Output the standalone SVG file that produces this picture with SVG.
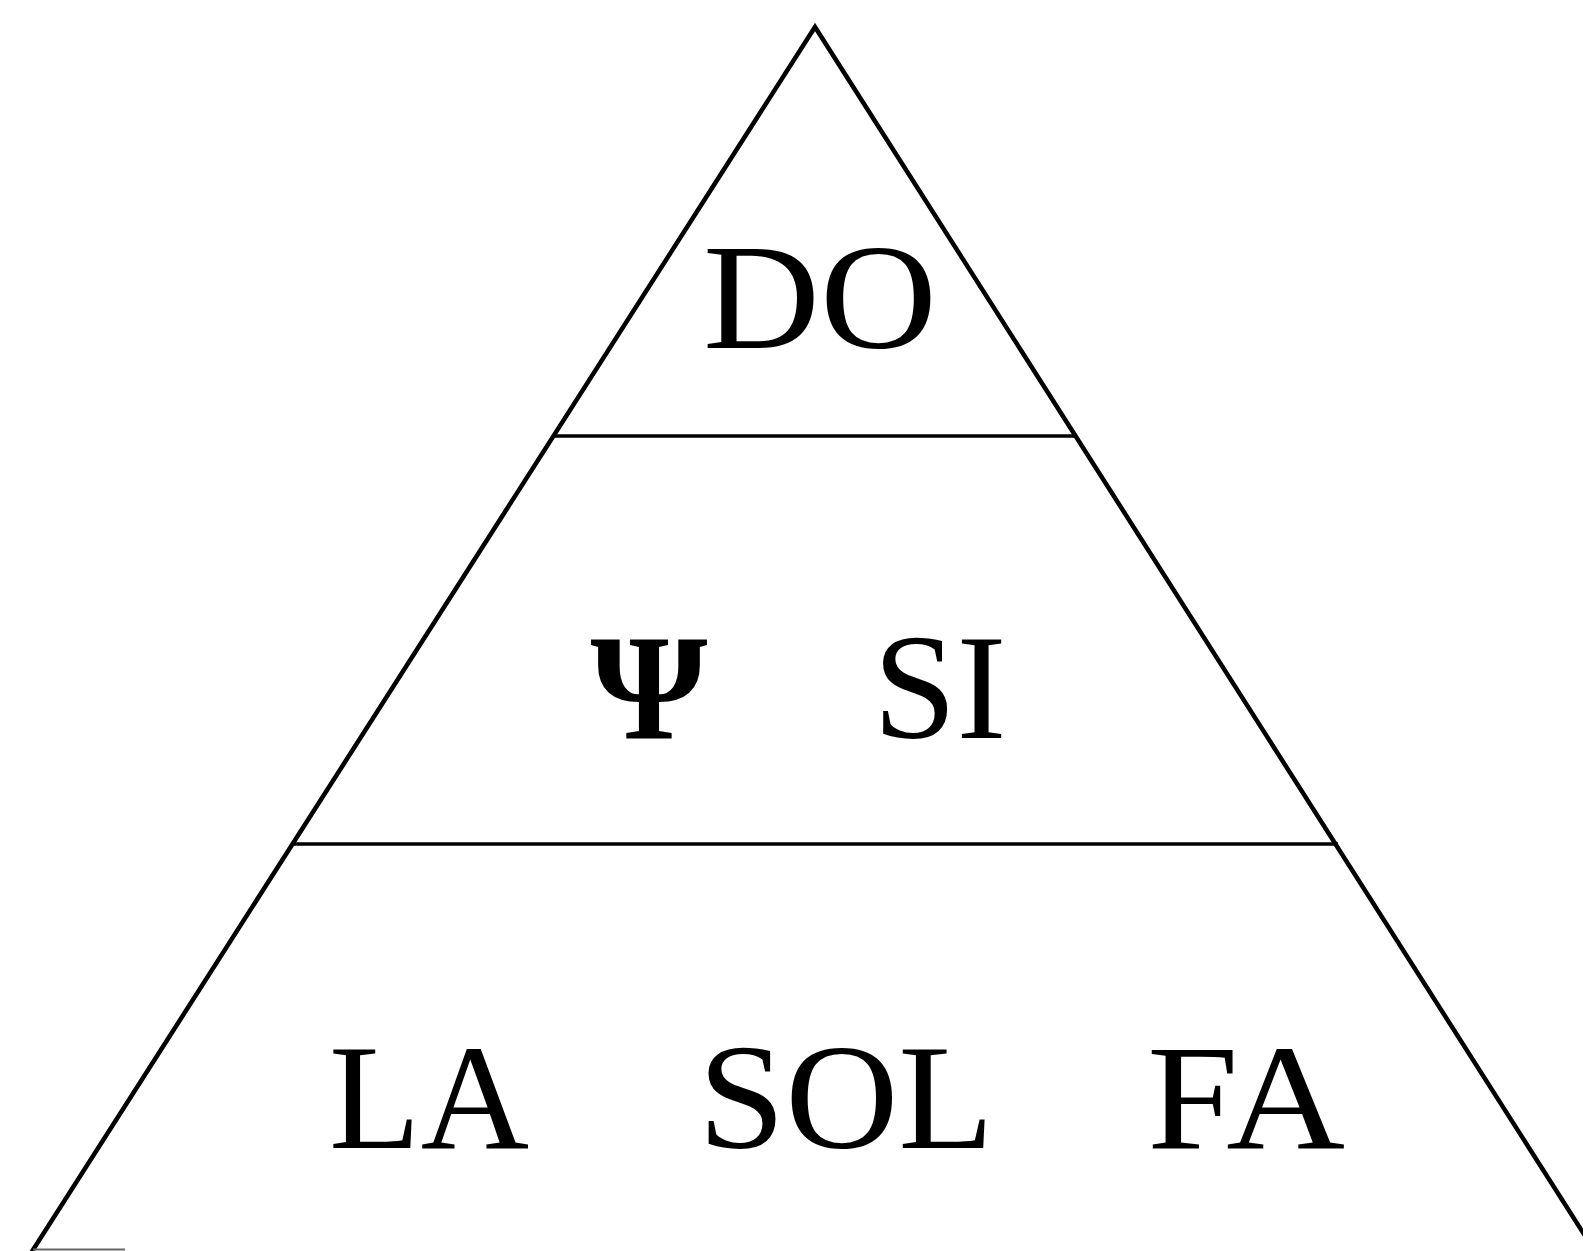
<svg xmlns="http://www.w3.org/2000/svg" width="1583" height="1251" viewBox="0 0 1583 1251">
<style>
.edge{fill:none;stroke:#000;stroke-width:4.5;stroke-linejoin:miter}
.div{stroke:#000;stroke-width:3.5}
.lbl{font-size:150px;fill:#000}
</style>
<rect width="1583" height="1251" fill="#fff"/>
<g id="connectors">
<path id="triangle" class="edge" d="M31,1253 L815,27 L1596,1253"/>
<line id="div1" class="div" x1="552" y1="436" x2="1076" y2="436"/>
<line id="div2" class="div" x1="292" y1="844" x2="1338" y2="844"/>
<line id="base" x1="33" y1="1249.5" x2="125" y2="1249.5" stroke="#666" stroke-width="2"/>
</g>
<g font-family="Liberation Serif, Tinos, Times New Roman, Times, serif">
<g id="node-do"><text class="lbl" x="703" y="348" textLength="234" lengthAdjust="spacingAndGlyphs">DO</text></g>
<g id="node-psi"><text class="lbl" x="649" y="738" text-anchor="middle" font-weight="bold">Ψ</text></g>
<g id="node-si"><text class="lbl" x="873" y="738">SI</text></g>
<g id="node-la"><text class="lbl" x="329" y="1148">LA</text></g>
<g id="node-sol"><text class="lbl" x="698" y="1148" textLength="296" lengthAdjust="spacingAndGlyphs">SOL</text></g>
<g id="node-fa"><text class="lbl" x="1147" y="1148" textLength="198" lengthAdjust="spacingAndGlyphs">FA</text></g>
</g>
</svg>
